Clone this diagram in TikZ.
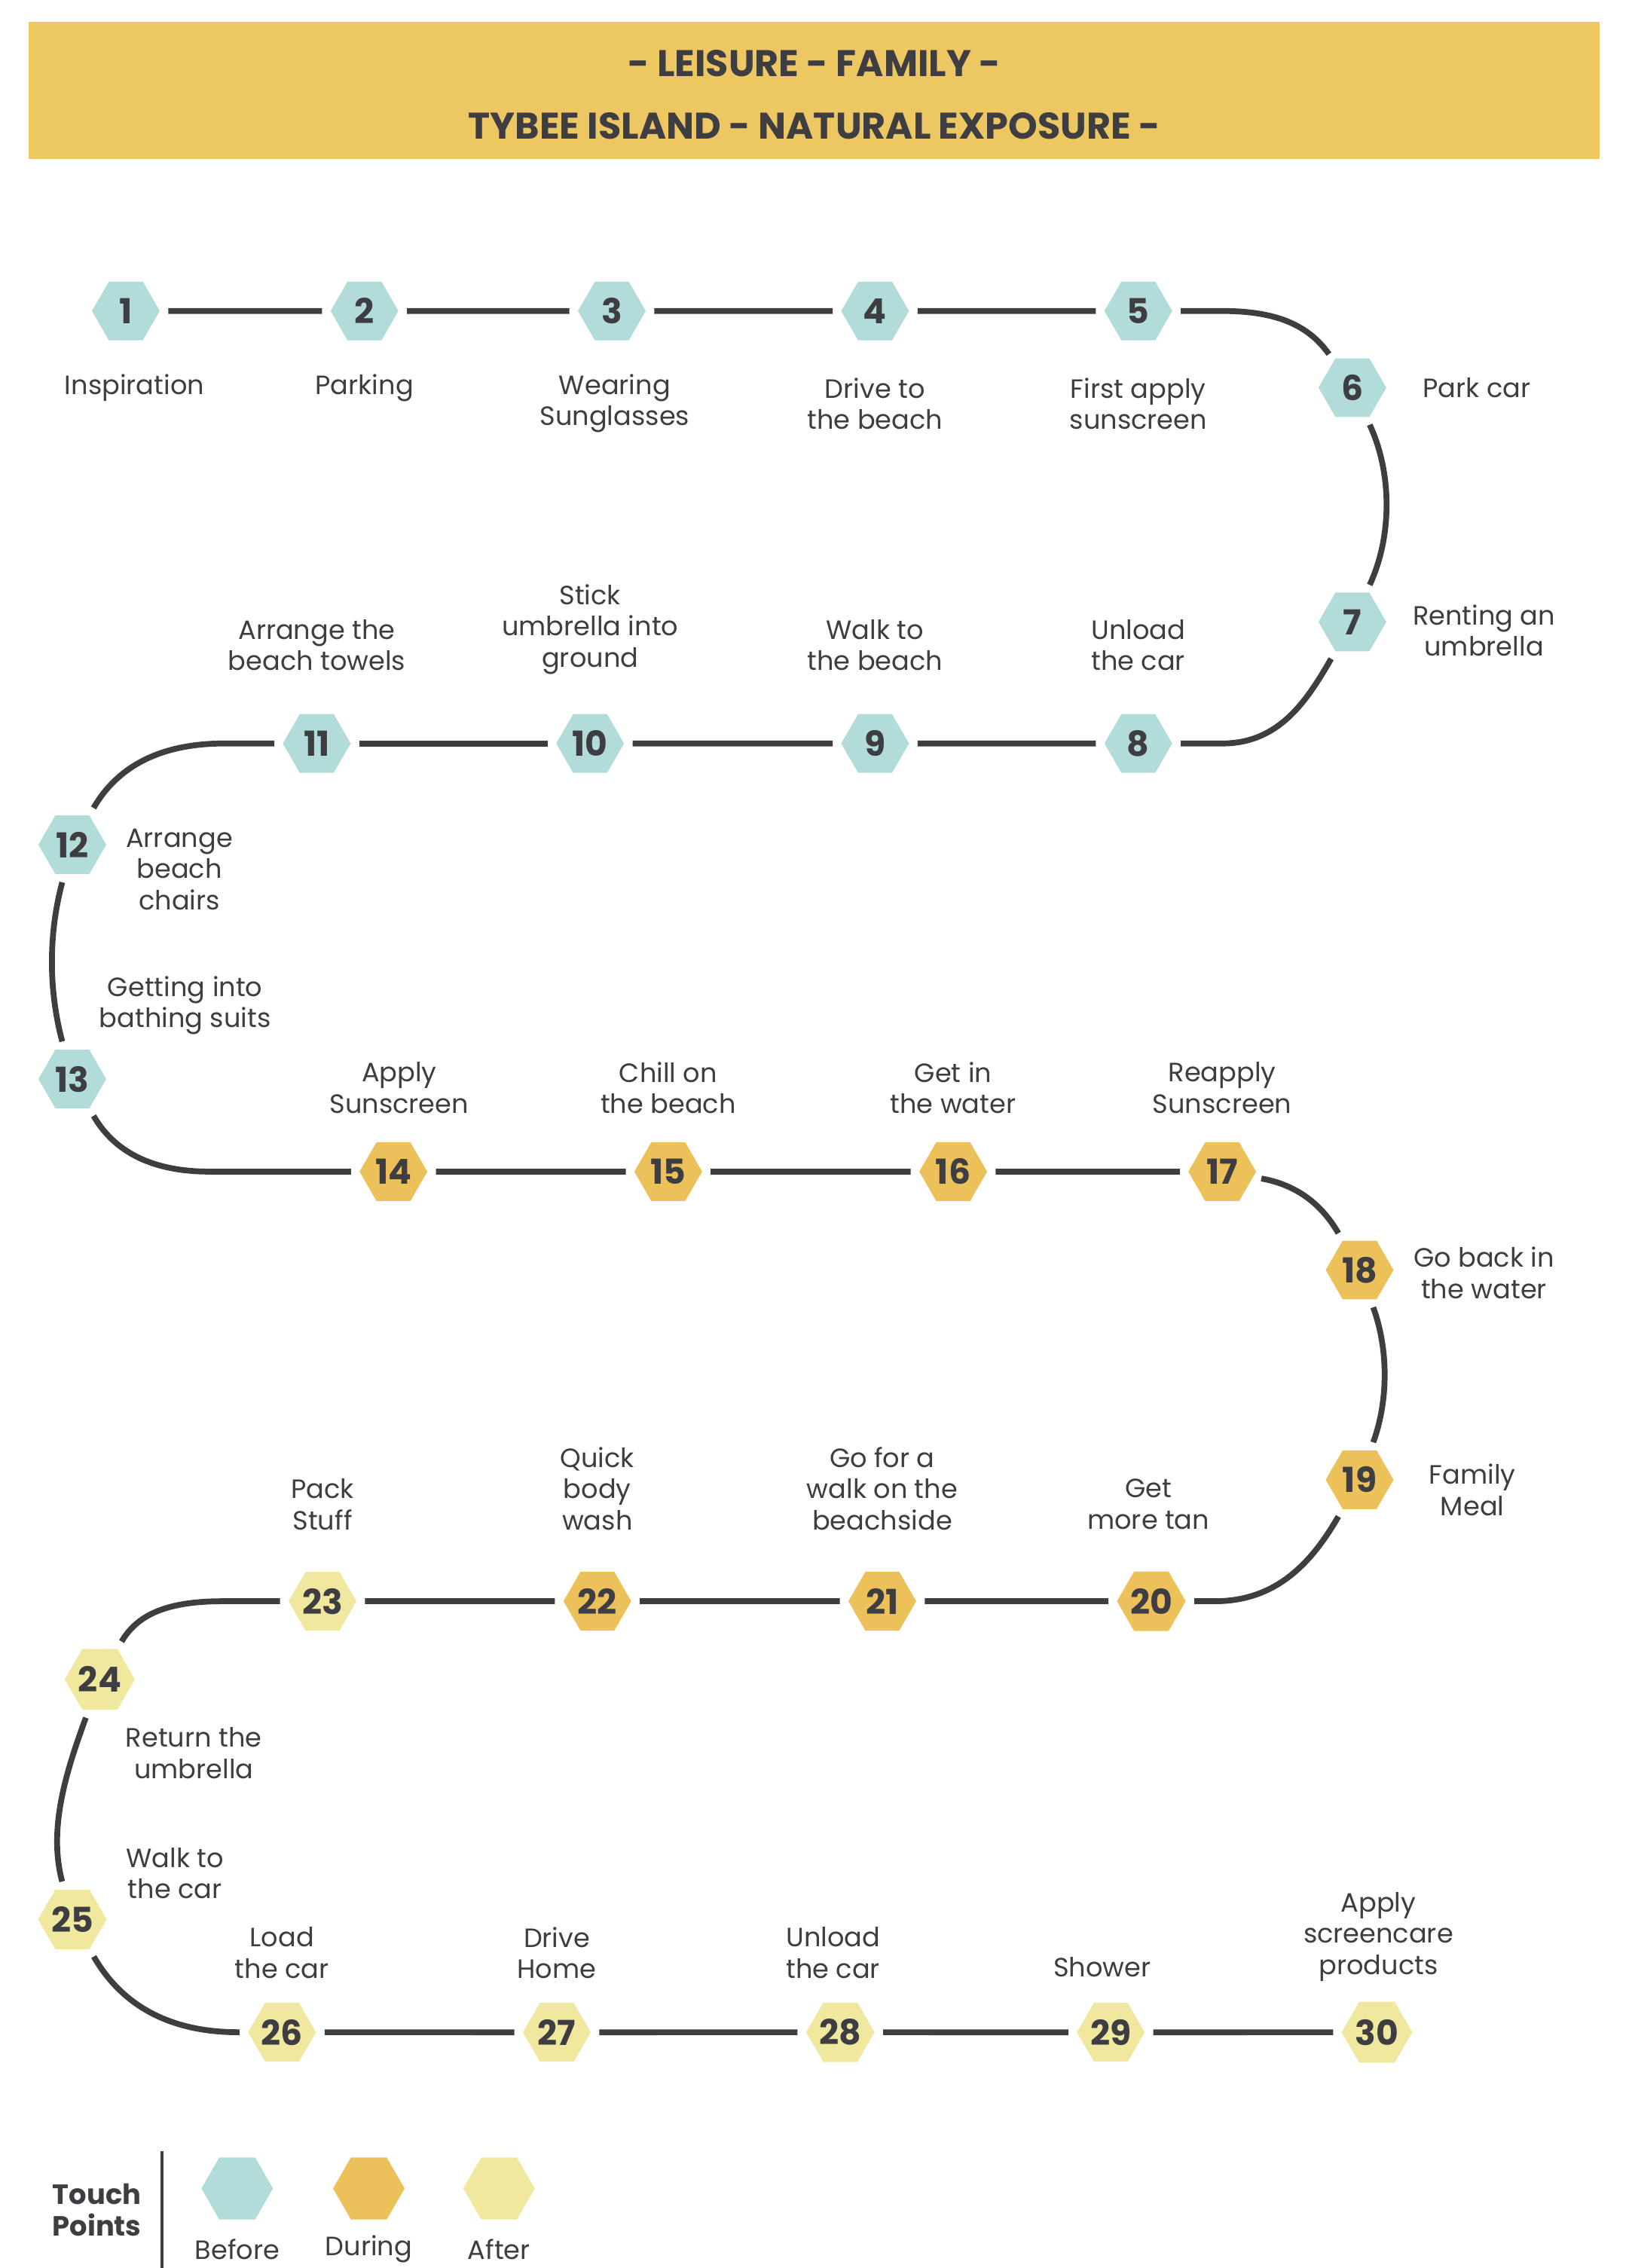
\documentclass[tikz,border=0pt]{standalone}
\usepackage{fontspec}
\setmainfont{Poppins}
\usetikzlibrary{positioning,shapes.geometric}
\definecolor{hexblue}{HTML}{B2DCDA}
\definecolor{hexorange}{HTML}{ECC15A}
\definecolor{hexyellow}{HTML}{F0E89E}
\definecolor{headband}{HTML}{EDC862}
\definecolor{inkgrey}{HTML}{3D3D42}

\begin{document}
\begin{tikzpicture}[
	x=0.0192cm, y=-0.0192cm,
	hexnode/.style={regular polygon, regular polygon sides=6,
		minimum size=0.9cm, inner sep=0pt, text=inkgrey, font=\fontsize{13}{13}\selectfont\bfseries},
	before/.style={hexnode, fill=hexblue},
	during/.style={hexnode, fill=hexorange},
	after/.style={hexnode, fill=hexyellow},
	lbl/.style={align=center, text=inkgrey, font=\fontsize{10}{11.8}\selectfont},
	road/.style={draw=inkgrey, line width=2.2pt, shorten <=3pt, shorten >=3pt}
	]
	\useasboundingbox (0,0) rectangle (1126,1568);
	\fill[headband] (20,15) rectangle (1106,110);
	\node[text=inkgrey, font=\fontsize{14}{14}\selectfont\bfseries] (t1) at (563,44) {- LEISURE - FAMILY -};
	\node[text=inkgrey, font=\fontsize{14}{14}\selectfont\bfseries] (t2) at (563,87) {TYBEE ISLAND - NATURAL EXPOSURE -};

	% touch points
	\node[before] (h1) at (87,215) {1};
	\node[before] (h2) at (252,215) {2};
	\node[before] (h3) at (423,215) {3};
	\node[before] (h4) at (605,215) {4};
	\node[before] (h5) at (787,215) {5};
	\node[before] (h6) at (935,268) {6};
	\node[before] (h7) at (935,430) {7};
	\node[before] (h8) at (787,514) {8};
	\node[before] (h9) at (605,514) {9};
	\node[before] (h10) at (408,514) {10};
	\node[before] (h11) at (219,514) {11};
	\node[before] (h12) at (50,584) {12};
	\node[before] (h13) at (50,746) {13};
	\node[during] (h14) at (272,810) {14};
	\node[during] (h15) at (462,810) {15};
	\node[during] (h16) at (659,810) {16};
	\node[during] (h17) at (845,810) {17};
	\node[during] (h18) at (940,878) {18};
	\node[during] (h19) at (940,1023) {19};
	\node[during] (h20) at (796,1107) {20};
	\node[during] (h21) at (610,1107) {21};
	\node[during] (h22) at (413,1107) {22};
	\node[after] (h23) at (223,1107) {23};
	\node[after] (h24) at (69,1161) {24};
	\node[after] (h25) at (50,1327) {25};
	\node[after] (h26) at (195,1405) {26};
	\node[after] (h27) at (385,1405) {27};
	\node[after] (h28) at (581,1405) {28};
	\node[after] (h29) at (768,1405) {29};
	\node[after] (h30) at (952,1405) {30};

	% labels
	\node[lbl] (l1) at (93,268) {Inspiration};
	\node[lbl] (l2) at (252,268) {Parking};
	\node[lbl] (l3) at (425,279) {Wearing\\Sunglasses};
	\node[lbl] (l4) at (605,279) {Drive to\\the beach};
	\node[lbl] (l5) at (787,279) {First apply\\sunscreen};
	\node[lbl] (l6) at (1021,268) {Park car};
	\node[lbl] (l7) at (1026,436) {Renting an\\umbrella};
	\node[lbl] (l8) at (787,446) {Unload\\the car};
	\node[lbl] (l9) at (605,446) {Walk to\\the beach};
	\node[lbl] (l10) at (408,435) {Stick\\umbrella into\\ground};
	\node[lbl] (l11) at (219,446) {Arrange the\\beach towels};
	\node[lbl] (l12) at (124,601) {Arrange\\beach\\chairs};
	\node[lbl] (l13) at (128,695) {Getting into\\bathing suits};
	\node[lbl] (l14) at (276,752) {Apply\\Sunscreen};
	\node[lbl] (l15) at (462,752) {Chill on\\the beach};
	\node[lbl] (l16) at (659,752) {Get in\\the water};
	\node[lbl] (l17) at (845,752) {Reapply\\Sunscreen};
	\node[lbl] (l18) at (1026,880) {Go back in\\the water};
	\node[lbl] (l19) at (1018,1030) {Family\\Meal};
	\node[lbl] (l20) at (794,1040) {Get\\more tan};
	\node[lbl] (l21) at (610,1029) {Go for a\\walk on the\\beachside};
	\node[lbl] (l22) at (413,1029) {Quick\\body\\wash};
	\node[lbl] (l23) at (223,1040) {Pack\\Stuff};
	\node[lbl] (l24) at (134,1212) {Return the\\umbrella};
	\node[lbl] (l25) at (121,1295) {Walk to\\the car};
	\node[lbl] (l26) at (195,1350) {Load\\the car};
	\node[lbl] (l27) at (385,1350) {Drive\\Home};
	\node[lbl] (l28) at (576,1350) {Unload\\the car};
	\node[lbl] (l29) at (762,1360) {Shower};
	\node[lbl] (l30) at (953,1339) {Apply\\screencare\\products};

	% bends
	\coordinate (c56) at (845,215);
	\coordinate (c78) at (845,514);
	\coordinate (c1112) at (155,514);
	\coordinate (c1314) at (145,810);
	\coordinate (c1920) at (840,1107);
	\coordinate (c2324) at (155,1107);
	\coordinate (c2526) at (165,1405);

	\draw[road] (h1) -- (h2);
	\draw[road] (h2) -- (h3);
	\draw[road] (h3) -- (h4);
	\draw[road] (h4) -- (h5);
	\draw[road] (h5) -- (c56) to[out=0,in=125] (h6);
	\draw[road] (h6) to[out=-65,in=65,looseness=0.9] (h7);
	\draw[road] (h7) to[out=-120,in=0] (c78) -- (h8);
	\draw[road] (h8) -- (h9);
	\draw[road] (h9) -- (h10);
	\draw[road] (h10) -- (h11);
	\draw[road] (h11) -- (c1112) to[out=180,in=60] (h12);
	\draw[road] (h12) to[out=-105,in=105,looseness=0.9] (h13);
	\draw[road] (h13) to[out=-60,in=180] (c1314) -- (h14);
	\draw[road] (h14) -- (h15);
	\draw[road] (h15) -- (h16);
	\draw[road] (h16) -- (h17);
	\draw[road] (h17) to[out=-10,in=120] (h18);
	\draw[road] (h18) to[out=-70,in=70,looseness=0.9] (h19);
	\draw[road] (h19) to[out=-120,in=0] (c1920) -- (h20);
	\draw[road] (h20) -- (h21);
	\draw[road] (h21) -- (h22);
	\draw[road] (h22) -- (h23);
	\draw[road] (h23) -- (c2324) to[out=180,in=60] (h24);
	\draw[road] (h24) to[out=-110,in=105,looseness=0.9] (h25);
	\draw[road] (h25) to[out=-60,in=180] (c2526) -- (h26);
	\draw[road] (h26) -- (h27);
	\draw[road] (h27) -- (h28);
	\draw[road] (h28) -- (h29);
	\draw[road] (h29) -- (h30);

	% legend
	\node[align=center, text=inkgrey, font=\fontsize{10.5}{12}\selectfont\bfseries] (tp) at (67,1528) {Touch\\Points};
	\draw[inkgrey, line width=1pt] (112,1487) -- (112,1568);
	\node[before, minimum size=0.95cm] (kb) at (164,1513) {};
	\node[during, minimum size=0.95cm] (kd) at (255,1513) {};
	\node[after, minimum size=0.95cm] (ka) at (345,1513) {};
	\node[lbl] (lb) at (164,1555) {Before};
	\node[lbl] (ld) at (255,1555) {During};
	\node[lbl] (la) at (345,1555) {After};
\end{tikzpicture}
\end{document}
